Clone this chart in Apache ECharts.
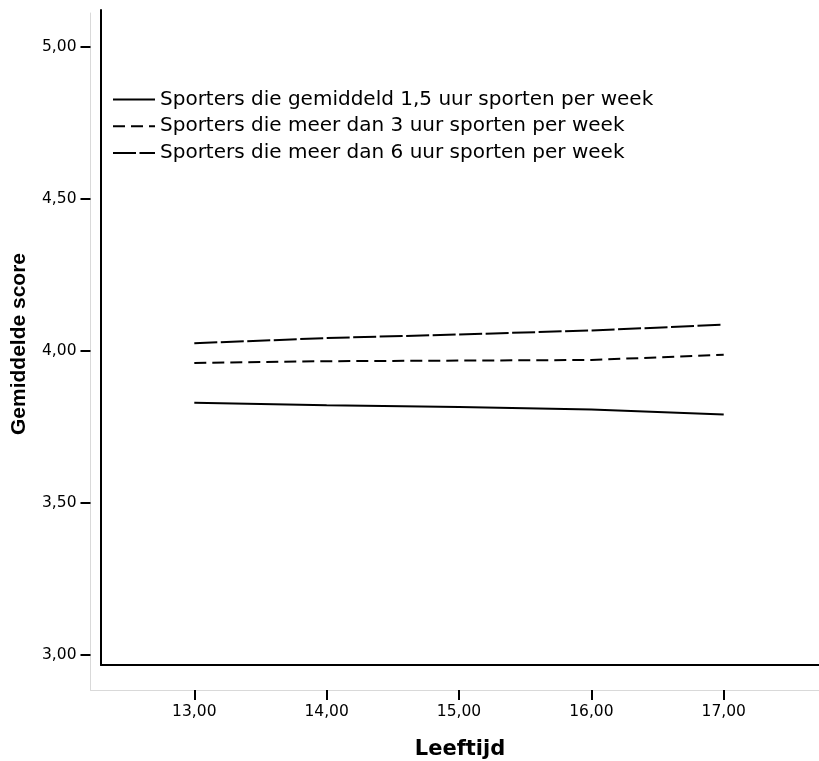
<!DOCTYPE html>
<html><head><meta charset="utf-8">
<script src="https://cdn.jsdelivr.net/npm/echarts@6/dist/echarts.min.js"></script>
<style>html,body{margin:0;padding:0;background:#fff}#c{width:819px;height:761px}</style>
</head><body><div id="c"></div>
<script>
const ages = [13, 14, 15, 16, 17];
const seriesNames = [
  'Sporters die gemiddeld 1,5 uur sporten per week',
  'Sporters die meer dan 3 uur sporten per week',
  'Sporters die meer dan 6 uur sporten per week'
];
const avg15 = [3.829, 3.821, 3.815, 3.807, 3.791];
const more3 = [3.960, 3.966, 3.968, 3.970, 3.987];
const more6 = [4.025, 4.042, 4.054, 4.067, 4.086];
const yTicks = [3.0, 3.5, 4.0, 4.5, 5.0];
const xTicks = [13, 14, 15, 16, 17];
const xTitle = 'Leeftijd';
const yTitle = 'Gemiddelde score';

const fmt = v => Number(v).toFixed(2).replace('.', ',');
const pairs = arr => ages.map((a, i) => [a, arr[i]]);
const dashes = ['solid', [12, 6], [23, 3.5]];

const chart = echarts.init(document.getElementById('c'), null, {renderer: 'canvas'});
chart.setOption({
  animation: false,
  backgroundColor: '#fff',
  grid: [
    {left: 90.5, right: 0, top: 13, bottom: 71, containLabel: false, outerBoundsMode: 'none'},
    {left: 101, right: 0, top: 10, bottom: 96, containLabel: false, outerBoundsMode: 'none'}
  ],
  legend: {
    orient: 'vertical', left: 112, top: 89.5, padding: 0,
    itemWidth: 42, itemHeight: 20, itemGap: 6.7,
    itemStyle: {opacity: 0},
    textStyle: {fontFamily: 'DejaVu Sans', fontSize: 20, color: '#000'},
    data: seriesNames
  },
  xAxis: [
    {
      gridIndex: 0, type: 'value', min: 12.2157, max: 17.72,
      axisLine: {show: true, onZero: false, lineStyle: {color: '#d9d9d9', width: 1}},
      axisTick: {show: true, customValues: xTicks, length: 10, lineStyle: {color: '#000', width: 2}},
      axisLabel: {customValues: xTicks, formatter: fmt, margin: 14, color: '#000', fontFamily: 'DejaVu Sans', fontSize: 15.5},
      splitLine: {show: false}
    },
    {
      gridIndex: 1, type: 'value', min: 0, max: 1,
      axisLine: {show: true, onZero: false, lineStyle: {color: '#000', width: 2}},
      axisTick: {show: false}, axisLabel: {show: false}, splitLine: {show: false},
      name: xTitle, nameLocation: 'middle', nameGap: 74,
      nameTextStyle: {fontFamily: 'DejaVu Sans', fontWeight: 'bold', fontSize: 21, color: '#000'}
    }
  ],
  yAxis: [
    {
      gridIndex: 0, type: 'value', min: 2.8849, max: 5.1108,
      axisLine: {show: true, onZero: false, lineStyle: {color: '#d9d9d9', width: 1}},
      axisTick: {show: true, customValues: yTicks, length: 10, lineStyle: {color: '#000', width: 2}},
      axisLabel: {customValues: yTicks, formatter: fmt, margin: 14, color: '#000', fontFamily: 'DejaVu Sans', fontSize: 15.5},
      splitLine: {show: false},
      name: yTitle, nameLocation: 'middle', nameRotate: 90, nameGap: 61,
      nameTextStyle: {fontFamily: 'Liberation Sans', fontWeight: 'bold', fontSize: 21, color: '#000', padding: [0, 0, 0, 15]}
    },
    {
      gridIndex: 1, type: 'value', min: 0, max: 1,
      axisLine: {show: true, onZero: false, lineStyle: {color: '#000', width: 2}},
      axisTick: {show: false}, axisLabel: {show: false}, splitLine: {show: false}
    }
  ],
  series: [avg15, more3, more6].map((arr, i) => ({
    name: seriesNames[i], type: 'line', xAxisIndex: 0, yAxisIndex: 0,
    data: pairs(arr), symbol: 'none', showSymbol: false,
    lineStyle: {color: '#000', width: 2, type: dashes[i]},
    itemStyle: {color: '#000'}
  }))
});
</script></body></html>
